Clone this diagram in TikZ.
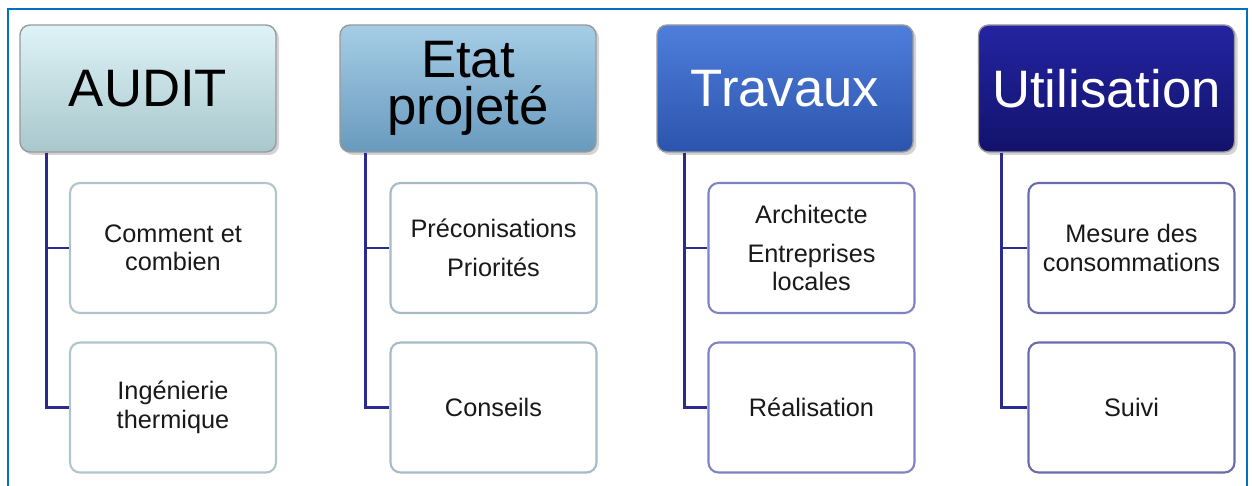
\documentclass[tikz,border=0pt]{standalone}
\usepackage{fontspec}
\setmainfont{Liberation Sans}
\usetikzlibrary{shadows}
\definecolor{frameblue}{RGB}{0,112,192}
\definecolor{linknavy}{RGB}{43,43,143}
\definecolor{auditTop}{RGB}{222,243,247}
\definecolor{auditBot}{RGB}{168,199,204}
\definecolor{etatTop}{RGB}{166,205,230}
\definecolor{etatBot}{RGB}{104,154,190}
\definecolor{travTop}{RGB}{78,126,220}
\definecolor{travBot}{RGB}{44,84,172}
\definecolor{utilTop}{RGB}{36,36,162}
\definecolor{utilBot}{RGB}{18,18,108}
\definecolor{auditEdge}{RGB}{178,196,204}
\definecolor{etatEdge}{RGB}{166,186,200}
\definecolor{travEdge}{RGB}{125,132,198}
\definecolor{utilEdge}{RGB}{106,106,174}
\begin{document}
\begin{tikzpicture}[
		header/.style = {rounded corners=0.1cm, minimum width=2.56cm, minimum height=1.27cm,
			inner sep=0pt, align=center, draw=black!40, line width=0.4pt,
			font=\fontsize{15}{13.5}\selectfont, drop shadow={opacity=0.35, shadow xshift=0.03cm, shadow yshift=-0.03cm}},
		item/.style = {rounded corners=0.1cm, minimum width=2.06cm, minimum height=1.30cm,
			inner sep=0pt, align=center, fill=white, line width=0.6pt,
			font=\fontsize{7.2}{8.1}\selectfont, text=black!90},
		link/.style = {draw=linknavy, line width=0.8pt}
	]
	\useasboundingbox (0,0) rectangle (12.52,4.86);
	
	% cadre
	\draw[frameblue, line width = 0.8pt] (0.08,-0.2) -- (0.08,4.77) -- (12.47,4.77) -- (12.47,-0.2);
	
	% titres
	\node[header, top color=auditTop, bottom color=auditBot] (audit) at (1.48,3.975) {AUDIT};
	\node[header, top color=etatTop, bottom color=etatBot] (etat) at (4.68,3.975) {Etat\\projeté};
	\node[header, top color=travTop, bottom color=travBot, text=white] (travaux) at (7.85,3.975) {Travaux};
	\node[header, top color=utilTop, bottom color=utilBot, text=white] (util) at (11.065,3.975) {Utilisation};
	
	% sous-blocs
	\node[item, draw=auditEdge] (audit1) at (1.73,2.38) {Comment et\\combien};
	\node[item, draw=auditEdge] (audit2) at (1.73,0.785) {Ingénierie\\thermique};
	
	\node[item, draw=etatEdge] (etat1) at (4.935,2.38) {Préconisations\\[0.1cm]Priorités};
	\node[item, draw=etatEdge] (etat2) at (4.935,0.785) {Conseils};
	
	\node[item, draw=travEdge] (travaux1) at (8.115,2.38) {Architecte\\[0.1cm]Entreprises\\locales};
	\node[item, draw=travEdge] (travaux2) at (8.115,0.785) {Réalisation};
	
	\node[item, draw=utilEdge] (util1) at (11.315,2.38) {Mesure des\\consommations};
	\node[item, draw=utilEdge] (util2) at (11.315,0.785) {Suivi};
	
	% liaisons
	\draw[link] ([xshift=0.27cm]audit.south west) |- (audit1.west);
	\draw[link] ([xshift=0.27cm]audit.south west) |- (audit2.west);
	\draw[link] ([xshift=0.26cm]etat.south west) |- (etat1.west);
	\draw[link] ([xshift=0.26cm]etat.south west) |- (etat2.west);
	\draw[link] ([xshift=0.28cm]travaux.south west) |- (travaux1.west);
	\draw[link] ([xshift=0.28cm]travaux.south west) |- (travaux2.west);
	\draw[link] ([xshift=0.24cm]util.south west) |- (util1.west);
	\draw[link] ([xshift=0.24cm]util.south west) |- (util2.west);
	
\end{tikzpicture}
\end{document}
